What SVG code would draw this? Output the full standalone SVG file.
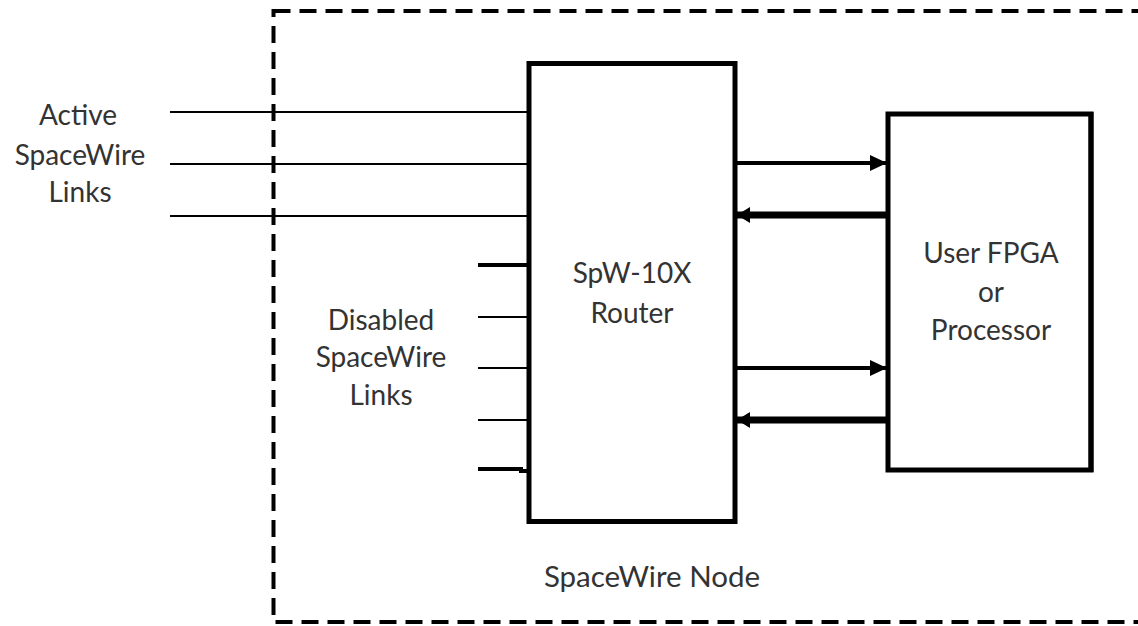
<svg xmlns="http://www.w3.org/2000/svg" width="1138" height="626" viewBox="0 0 1138 626">
<style>
text{font-family:Lato,"Open Sans","Liberation Sans",sans-serif;font-size:28px;fill:#333;text-anchor:middle}
.box{fill:#fff;stroke:#000;stroke-width:5}
.thin{stroke:#000;stroke-width:2;fill:none}
.stub{stroke:#000;stroke-width:4;fill:none}
</style>
<defs>
<marker id="hr" markerUnits="userSpaceOnUse" markerWidth="20" markerHeight="20" refX="17" refY="8" orient="auto">
<path d="M0,0 L17,8 L0,16 Z" fill="#000"/>
</marker>
<marker id="hl" markerUnits="userSpaceOnUse" markerWidth="20" markerHeight="20" refX="13" refY="8" orient="auto">
<path d="M0,0 L13,8 L0,16 Z" fill="#000"/>
</marker>
</defs>
<g id="node-boundary">
<rect x="273.5" y="11" width="900" height="611" fill="none" stroke="#000" stroke-width="4" stroke-dasharray="17 9"/>
<text x="652" y="587" style="font-size:29.5px">SpaceWire Node</text>
</g>
<g id="connectors">
<line class="thin" x1="170" y1="112" x2="529" y2="112"/>
<line class="thin" x1="170" y1="164" x2="529" y2="164"/>
<line class="thin" x1="170" y1="216" x2="529" y2="216"/>
<line class="stub" x1="478" y1="265" x2="529" y2="265"/>
<line class="thin" x1="478" y1="317" x2="529" y2="317"/>
<line class="thin" x1="478" y1="368" x2="529" y2="368"/>
<line class="thin" x1="478" y1="420" x2="529" y2="420"/>
<path class="stub" d="M478,469 H521 V471 H529"/>
<line stroke="#000" stroke-width="4" x1="735" y1="163" x2="887" y2="163" marker-end="url(#hr)"/>
<line stroke="#000" stroke-width="7" x1="887" y1="215" x2="737" y2="215" marker-end="url(#hl)"/>
<line stroke="#000" stroke-width="4" x1="735" y1="368" x2="887" y2="368" marker-end="url(#hr)"/>
<line stroke="#000" stroke-width="7" x1="887" y1="420" x2="737" y2="420" marker-end="url(#hl)"/>
</g>
<g id="active-links-label">
<text x="78" y="125">Active</text>
<text x="80" y="165">SpaceWire</text>
<text x="80" y="202">Links</text>
</g>
<g id="disabled-links-label">
<text x="381" y="330">Disabled</text>
<text x="381" y="367">SpaceWire</text>
<text x="381" y="405">Links</text>
</g>
<g id="router">
<rect class="box" x="529" y="63.5" width="206" height="458" fill="none"/>
<text x="632" y="283">SpW-10X</text>
<text x="632" y="323">Router</text>
</g>
<g id="user-fpga">
<rect class="box" x="888" y="114" width="203" height="356" stroke-width="4"/>
<line x1="1091" y1="112" x2="1091" y2="472" stroke="#000" stroke-width="5"/>
<text x="991" y="263">User FPGA</text>
<text x="991" y="302">or</text>
<text x="991" y="340">Processor</text>
</g>
</svg>
